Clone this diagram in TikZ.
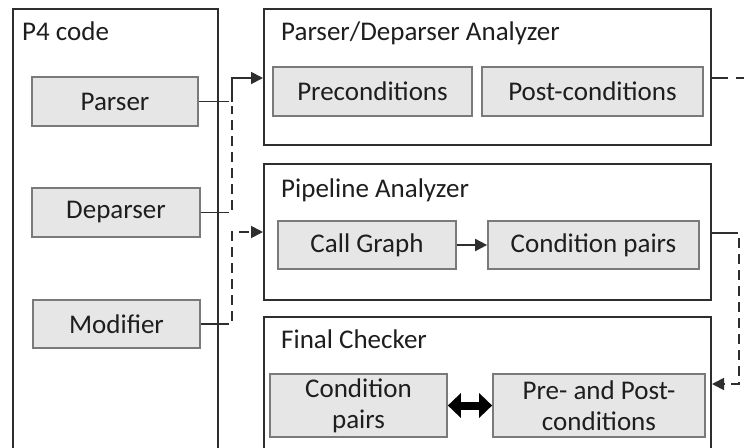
\documentclass[tikz,border=0pt]{standalone}
\usepackage{fontspec}
\setmainfont{Carlito}
\usetikzlibrary{arrows.meta}
\definecolor{boxline}{HTML}{2E2E2E}
\definecolor{innerline}{HTML}{7A7A7A}
\definecolor{innerfill}{HTML}{E6E6E6}
\definecolor{txt}{HTML}{1E1E1E}
\begin{document}
\begin{tikzpicture}[x=1pt,y=-1pt,
  outer/.style={draw=boxline, line width=2pt, fill=white, inner sep=0pt},
  inner/.style={draw=innerline, line width=1.7pt, fill=innerfill, inner sep=0pt, align=center,
    text=txt, font=\fontsize{27}{31}\selectfont},
  title/.style={anchor=north west, inner sep=0pt, text=txt, font=\fontsize{27}{31}\selectfont},
  conn/.style={draw=boxline, line width=1.8pt},
  dconn/.style={conn, dash pattern=on 10pt off 6pt},
  tip/.style={-{Triangle[length=12pt,width=12pt]}}
]
\useasboundingbox (0,0) rectangle (744,447);
\clip (0,0) rectangle (744,447);
\fill[white] (0,0) rectangle (744,447);

% outer boxes
\node[outer, minimum width=205pt, minimum height=471pt] (p4) at (115.5,244.5) {};
\node[outer, minimum width=447pt, minimum height=136pt] (pda) at (487.5,77) {};
\node[outer, minimum width=447pt, minimum height=136pt] (pipe) at (487.5,232) {};
\node[outer, minimum width=447pt, minimum height=163pt] (final) at (487.5,398.5) {};

% titles
\node[title] (t1) at (22,22) {P4 code};
\node[title] (t2) at (281,22) {Parser/Deparser Analyzer};
\node[title] (t3) at (281,179) {Pipeline Analyzer};
\node[title] (t4) at (281,330) {Final Checker};

% inner nodes
\node[inner, minimum width=166pt, minimum height=49pt] (parser) at (115,101.5) {Parser};
\node[inner, minimum width=168pt, minimum height=49pt] (deparser) at (116,212.5) {Deparser};
\node[inner, minimum width=167pt, minimum height=48pt] (modifier) at (116.5,324) {Modifier};
\node[inner, minimum width=199pt, minimum height=49pt] (pre) at (372.5,91.5) {Preconditions};
\node[inner, minimum width=221pt, minimum height=49pt] (post) at (592.5,91.5) {Post-conditions};
\node[inner, minimum width=178pt, minimum height=48pt] (cg) at (367,245) {Call Graph};
\node[inner, minimum width=211pt, minimum height=48pt] (cp) at (593.5,245) {Condition pairs};
\node[inner, minimum width=177pt, minimum height=63pt] (cp2) at (358.5,405.5) {Condition\\pairs};
\node[inner, minimum width=212pt, minimum height=63pt] (pp) at (599,405.5) {Pre- and Post-\\conditions};

% junction coordinates
\coordinate (jx) at (232,0);
\coordinate (pdin) at (pda.west |- 0,78);
\coordinate (pipein) at (pipe.west |- 0,232);
\coordinate (pdout) at (pda.east |- 0,78);
\coordinate (pdoutend) at (760,78);
\coordinate (pipeout) at (pipe.east |- 0,233);
\coordinate (rx) at (739,0);
\coordinate (finin) at (final.east |- 0,384);

% Parser / Deparser -> Parser/Deparser Analyzer
\draw[conn] (parser.east) -- (p4.east |- parser.east);
\draw[dconn] (p4.east |- parser.east) -- (jx |- parser.east);
\draw[conn, tip] (jx |- parser.east) |- (pdin);
\draw[conn] (deparser.east) -- (p4.east |- deparser.east);
\draw[dconn] (p4.east |- deparser.east) -| ([yshift=-4pt]jx |- parser.east);

% Modifier -> Pipeline Analyzer
\draw[conn] (modifier.east) -- (p4.east |- modifier.east);
\draw[dconn, tip] (p4.east |- modifier.east) -| (jx |- pipein) -- (pipein);

% Call Graph -> Condition pairs
\draw[conn, tip] (cg.east) -- (cp.west);

% Parser/Deparser Analyzer output
\draw[conn] (pdout) -- ++(16,0) coordinate (pdout2);
\draw[dconn] (pdout2) ++(8,0) -- (pdoutend);

% Pipeline -> Final Checker
\draw[conn] (pipeout) -- ++(16,0) coordinate (pipeout2);
\draw[dconn, tip] (pipeout2) -- (rx |- pipeout) -- (rx |- finin) -- (finin);

% double arrow
\draw[draw=black, line width=8pt,
  {Triangle[length=13pt,width=24pt]}-{Triangle[length=13pt,width=24pt]}]
  (cp2.east) -- (pp.west);
\end{tikzpicture}
\end{document}
